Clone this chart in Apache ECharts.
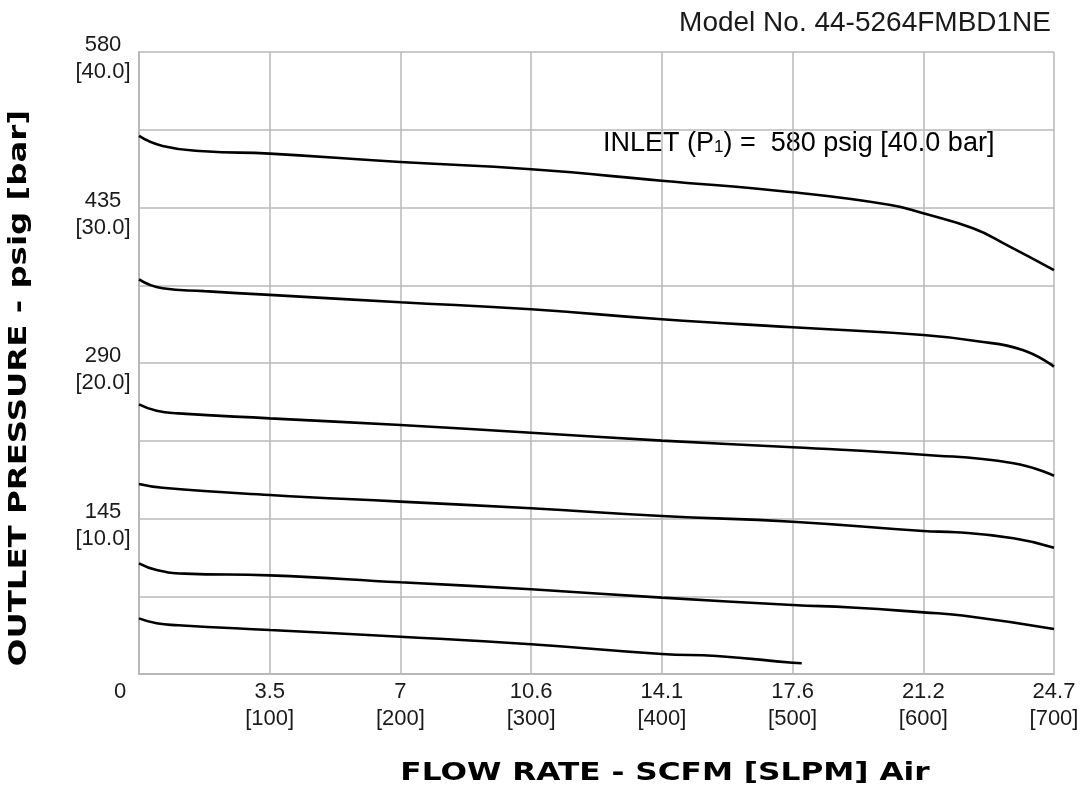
<!DOCTYPE html>
<html>
<head>
<meta charset="utf-8">
<script src="https://cdn.jsdelivr.net/npm/echarts@6/dist/echarts.min.js"></script>
<style>html,body{margin:0;padding:0;background:#fff}#c{width:1088px;height:791px}</style>
</head>
<body>
<div id="c"></div>
<script>
// X axis: flow in SLPM, labelled with SCFM and [SLPM]
const slpmTicks = [0, 100, 200, 300, 400, 500, 600, 700];
const scfmLabels = ['0', '3.5', '7', '10.6', '14.1', '17.6', '21.2', '24.7'];
// Y axis: outlet pressure psig with [bar]
const psigTicks = [145, 290, 435, 580];
const barLabels = ['10.0', '20.0', '30.0', '40.0'];

// Curves: [SLPM, psig]
const curve1 = [[0,501.7],[18,492.4],[50,487.5],[100,485.2],[200,477.4],[300,470.6],[400,460],[500,449.2],[575,437.4],[600,429.6],[638,415.6],[664,400],[700,376.6]];
const curve2 = [[0,368],[18,359.7],[50,357],[100,353.5],[200,346.7],[300,340.1],[400,330.8],[500,323.3],[600,316.1],[640,310.5],[676,302.1],[700,286.6]];
const curve3 = [[0,251.5],[13.5,245.5],[30,243],[100,238.4],[200,232.2],[300,225],[400,217.6],[500,211.4],[600,204.5],[669,196.5],[700,184.9]];
const curve4 = [[0,177.2],[18,173.7],[100,166.9],[200,160.7],[300,154.5],[400,147.3],[500,142],[600,133.3],[625,132.2],[669,126.5],[700,117.8]];
const curve5 = [[0,103.2],[13.5,97],[35,93.6],[100,92],[200,85.5],[300,79],[400,71.2],[500,64.4],[545,62],[600,57.5],[630,54.5],[700,42]];
const curve6 = [[0,51.9],[13.5,47.3],[30,45.5],[100,41],[200,34.8],[300,27.7],[400,18.6],[442,16.8],[500,10.5],[507,10]];

const curves = [curve1, curve2, curve3, curve4, curve5, curve6];

const chart = echarts.init(document.getElementById('c'));
const gridColor = '#b8b8b8';
const txt = '#1a1a1a';
const option = {
  animation: false,
  backgroundColor: '#fff',
  grid: { left: 139, right: 34, top: 52, bottom: 117 },
  xAxis: {
    type: 'value', min: 0, max: 700, interval: 100,
    axisLine: { show: true, lineStyle: { color: gridColor, width: 2 } },
    axisTick: { show: false },
    splitLine: { show: true, lineStyle: { color: gridColor, width: 1.5 } },
    axisLabel: {
      margin: 4, fontSize: 22, lineHeight: 27, color: txt, fontFamily: 'Liberation Sans',
      formatter: function (v) {
        const i = slpmTicks.indexOf(v);
        if (i < 0) return '';
        if (i === 0) return '{z|' + scfmLabels[0] + '}';
        return scfmLabels[i] + '\n[' + slpmTicks[i] + ']';
      },
      rich: { z: { fontSize: 22, lineHeight: 27, color: txt, fontFamily: 'Liberation Sans', padding: [0, 38, 0, 0] } }
    }
  },
  yAxis: {
    type: 'value', min: 0, max: 580, interval: 72.5,
    axisLine: { show: true, lineStyle: { color: gridColor, width: 2 } },
    axisTick: { show: false },
    splitLine: { show: true, lineStyle: { color: gridColor, width: 1.5 } },
    axisLabel: {
      margin: 36, align: 'center', fontSize: 22, lineHeight: 27, color: txt, fontFamily: 'Liberation Sans',
      formatter: function (v) {
        const i = psigTicks.indexOf(v);
        if (i < 0) return '';
        return '{e| }\n' + psigTicks[i] + '\n[' + barLabels[i] + ']';
      },
      rich: { e: { fontSize: 8, lineHeight: 13 } }
    }
  },
  graphic: [
    { type: 'text', right: 37, top: 9, style: { text: 'Model No. 44-5264FMBD1NE', font: '28px "Liberation Sans"', fill: txt } },
    { type: 'text', left: 603, top: 130, style: {
        text: '{a|INLET (P}{s|1}{a|) =  580 psig [40.0 bar]}',
        rich: { a: { fontSize: 27, fontFamily: 'Liberation Sans', color: txt }, s: { fontSize: 17, fontFamily: 'Liberation Sans', color: txt, padding: [8, 0, 0, 0] } }
      } },
    { type: 'text', x: 665, y: 774, scaleX: 1.3, style: { text: 'FLOW RATE - SCFM [SLPM] Air', font: 'bold 24px "DejaVu Sans"', fill: '#000', textAlign: 'center', textVerticalAlign: 'middle' } },
    { type: 'text', x: 20, y: 388, rotation: Math.PI / 2, scaleX: 1.35, style: { text: 'OUTLET PRESSURE - psig [bar]', font: 'bold 24px "DejaVu Sans"', fill: '#000', textAlign: 'center', textVerticalAlign: 'middle' } }
  ],
  series: curves.map(function (c) {
    return { type: 'line', data: c, smooth: 0.5, symbol: 'none', lineStyle: { color: '#000', width: 2.6 } };
  })
};
chart.setOption(option);
</script>
</body>
</html>
